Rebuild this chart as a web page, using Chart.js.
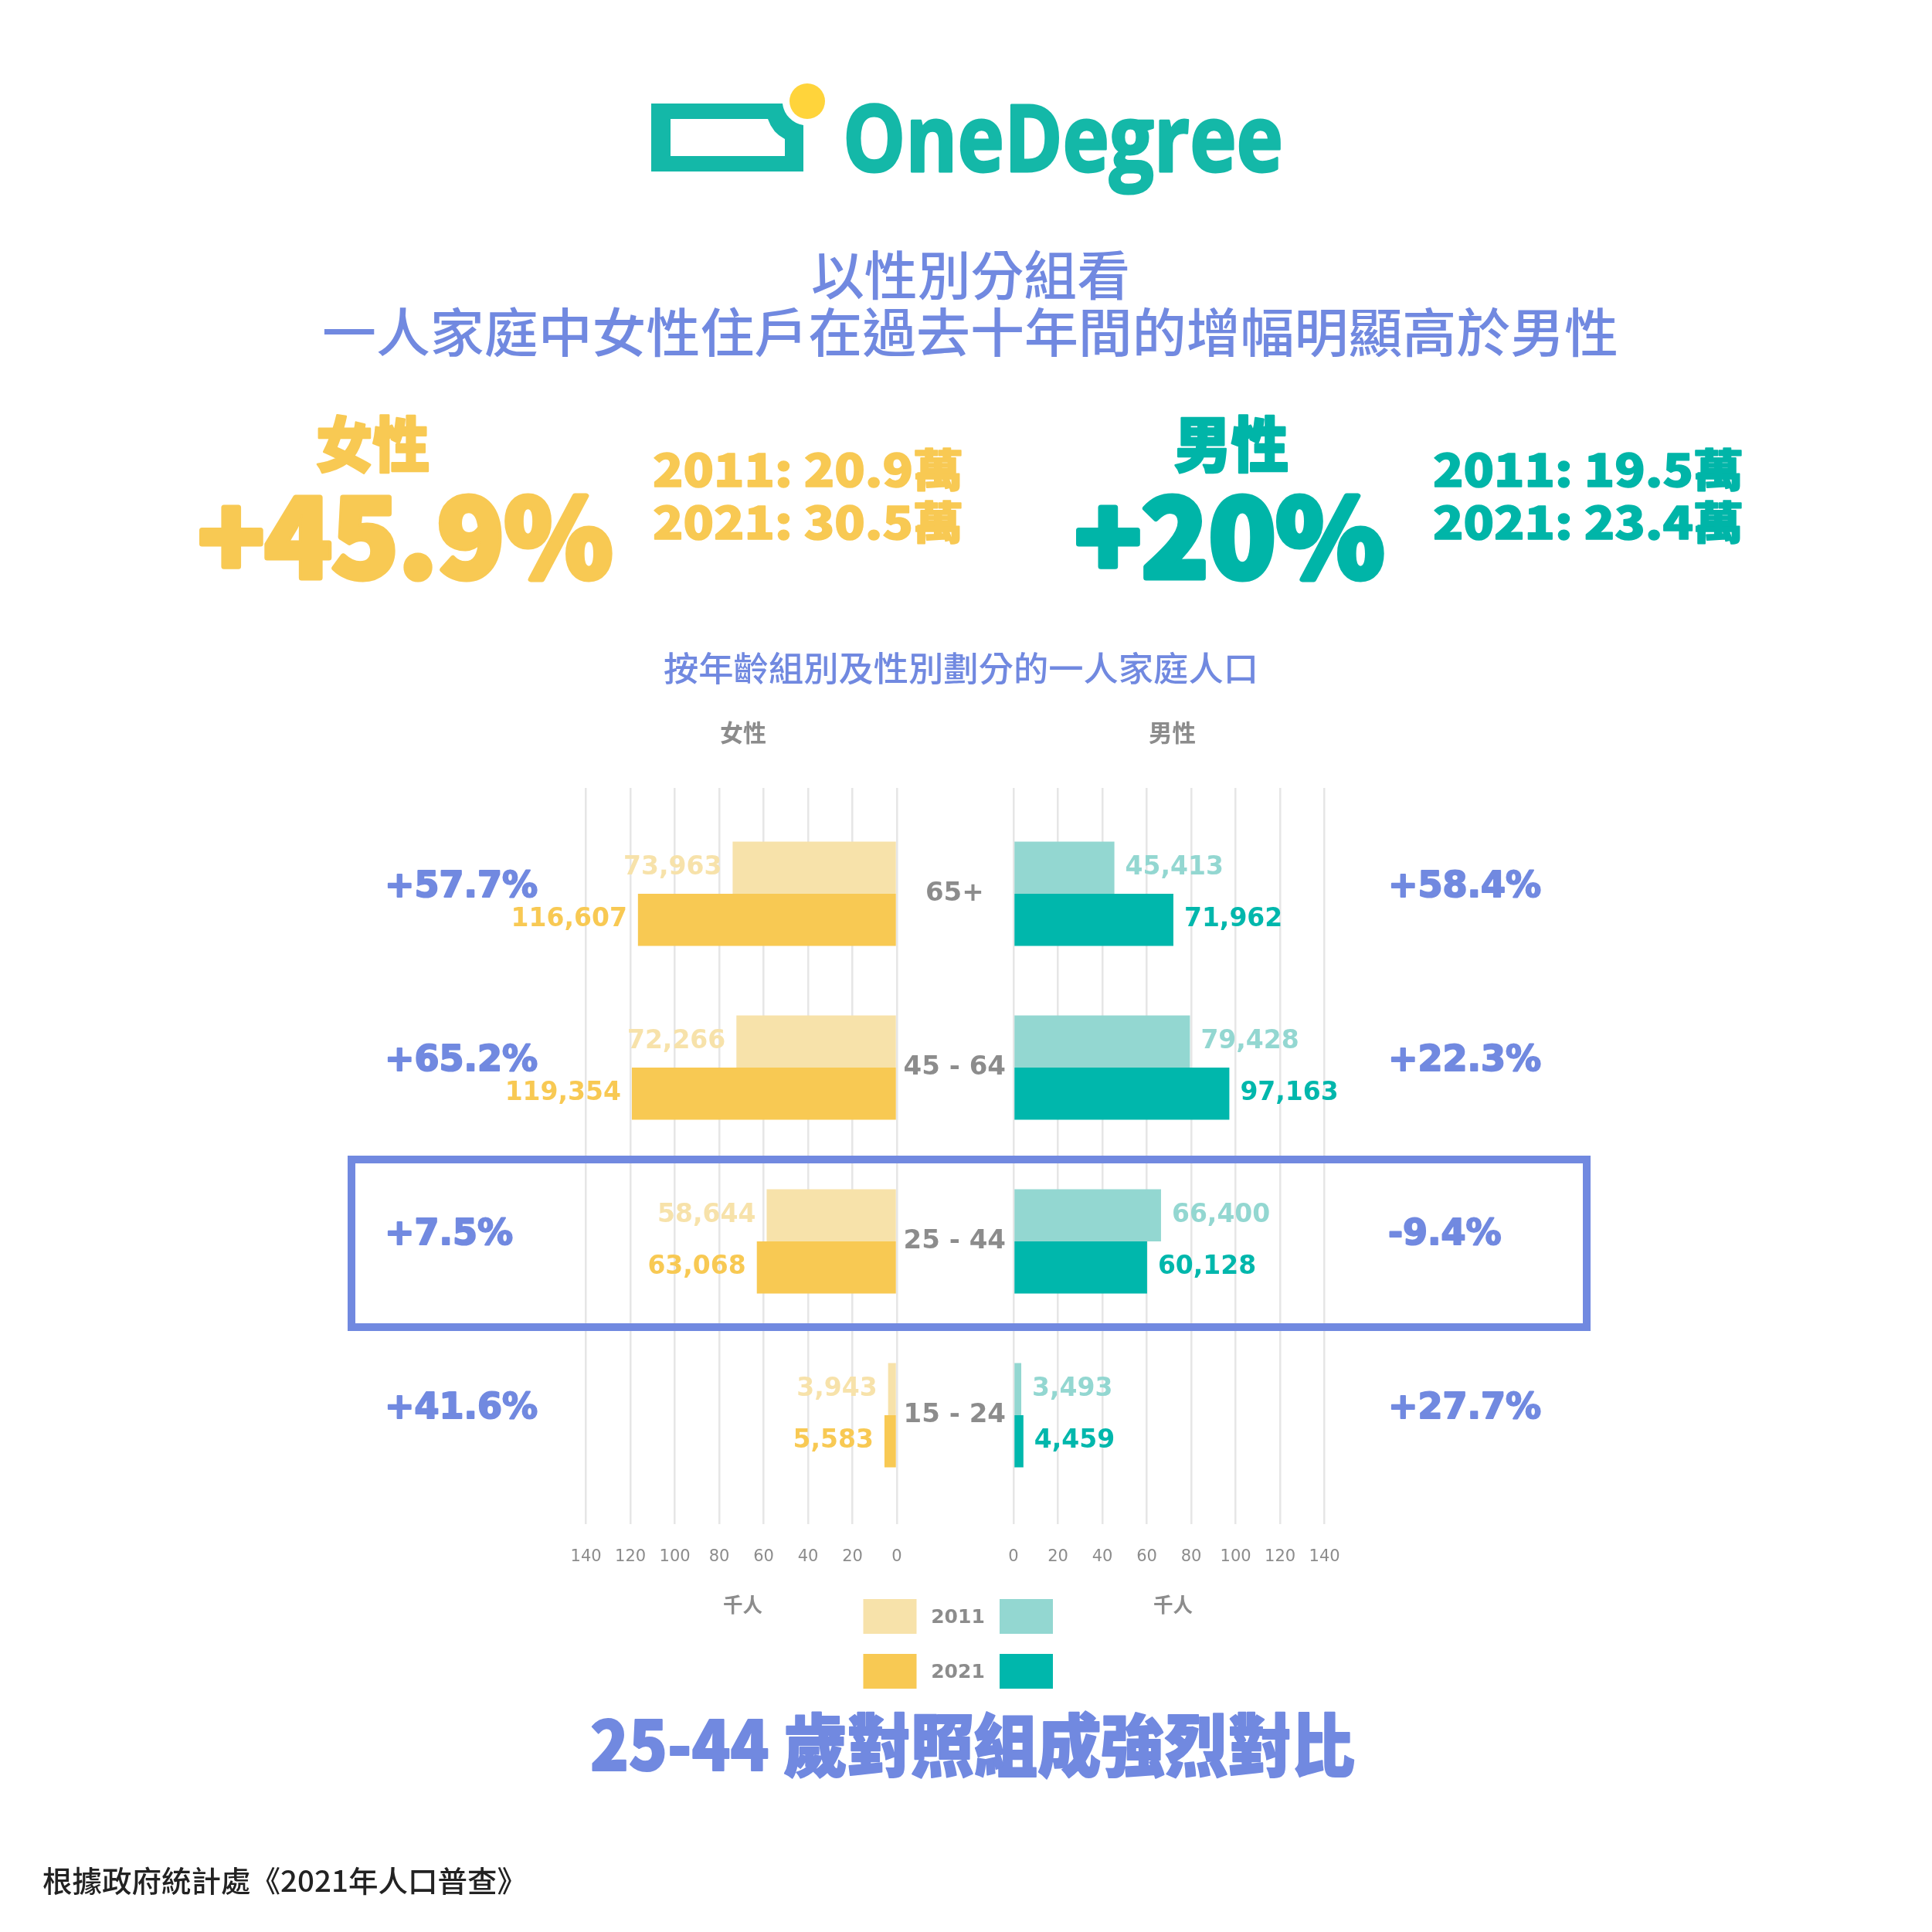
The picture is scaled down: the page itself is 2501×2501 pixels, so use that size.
<!DOCTYPE html>
<html lang="zh-Hant">
<head>
<meta charset="UTF-8">
<title>一人家庭人口</title>
<script src="https://cdn.jsdelivr.net/npm/chart.js@4"></script>
<style>
  html, body { margin: 0; padding: 0; background: #fff; }
  #page { position: relative; width: 2501px; height: 2501px; overflow: hidden; background: #fff; }
  canvas { position: absolute; left: 0; top: 900px; width: 2501px; height: 1160px; }
  #overlay { position: absolute; left: 0; top: 0; pointer-events: none; }
  .cjk { font-family: "Noto Sans CJK TC", "Noto Sans CJK SC", sans-serif; }
  .heavy { paint-order: stroke; stroke-linejoin: round; }
</style>
</head>
<body>
<div id="page">
  <canvas id="femaleChart" width="2501" height="1160"></canvas>
  <canvas id="maleChart" width="2501" height="1160"></canvas>

  <svg id="overlay" width="2501" height="2501" viewBox="0 0 2501 2501" xmlns="http://www.w3.org/2000/svg">
    <!-- logo -->
    <path fill="#14b8a8" fill-rule="evenodd"
          d="M843,134 H1013 A32,32 0 0 0 1040,162 V222 H843 Z M868,154 H994 Q1000,172 1016,180 V202 H868 Z"/>
    <circle cx="1045" cy="131" r="23" fill="#ffd43b"/>
    <text class="heavy" x="1091" y="222" textLength="570" lengthAdjust="spacingAndGlyphs" stroke="#14b8a8" stroke-width="3"
          font-family="Open Sans, Lato, sans-serif" font-weight="700" font-size="120" fill="#14b8a8">OneDegree</text>

    <!-- heading -->
    <g class="cjk" fill="#7189e0" font-weight="500">
      <text x="1050" y="382" font-size="68" textLength="413" lengthAdjust="spacingAndGlyphs">以性別分組看</text>
      <text x="417" y="456" font-size="68" textLength="1678" lengthAdjust="spacingAndGlyphs">一人家庭中女性住戶在過去十年間的增幅明顯高於男性</text>
    </g>

    <!-- summary -->
    <g class="cjk heavy" font-weight="900" fill="#f8c953" stroke="#f8c953">
      <text x="409" y="605" font-size="78" stroke-width="2.5" textLength="147" lengthAdjust="spacingAndGlyphs">女性</text>
      <text x="256" y="748" font-size="140" stroke-width="7" textLength="537" lengthAdjust="spacingAndGlyphs">+45.9%</text>
      <text x="845" y="630" font-size="58" stroke-width="1.5" textLength="402" lengthAdjust="spacingAndGlyphs">2011: 20.9萬</text>
      <text x="845" y="698" font-size="58" stroke-width="1.5" textLength="402" lengthAdjust="spacingAndGlyphs">2021: 30.5萬</text>
    </g>
    <g class="cjk heavy" font-weight="900" fill="#00b5a8" stroke="#00b5a8">
      <text x="1520" y="605" font-size="78" stroke-width="2.5" textLength="148" lengthAdjust="spacingAndGlyphs">男性</text>
      <text x="1391" y="748" font-size="140" stroke-width="7" textLength="401" lengthAdjust="spacingAndGlyphs">+20%</text>
      <text x="1855" y="630" font-size="58" stroke-width="1.5" textLength="402" lengthAdjust="spacingAndGlyphs">2011: 19.5萬</text>
      <text x="1855" y="698" font-size="58" stroke-width="1.5" textLength="402" lengthAdjust="spacingAndGlyphs">2021: 23.4萬</text>
    </g>

    <!-- chart titles -->
    <text class="cjk" x="859" y="882" font-size="44" font-weight="500" fill="#7189e0"
          textLength="770" lengthAdjust="spacingAndGlyphs">按年齡組別及性別劃分的一人家庭人口</text>
    <g class="cjk" font-weight="700" fill="#8c8c8c">
      <text x="932" y="960" font-size="31" textLength="60" lengthAdjust="spacingAndGlyphs">女性</text>
      <text x="1487" y="960" font-size="31" textLength="61" lengthAdjust="spacingAndGlyphs">男性</text>
      <text x="936" y="2087" font-size="26" textLength="51" lengthAdjust="spacingAndGlyphs">千人</text>
      <text x="1493" y="2087" font-size="26" textLength="51" lengthAdjust="spacingAndGlyphs">千人</text>
    </g>

    <!-- 25-44 highlight -->
    <rect x="455" y="1501" width="1599" height="217" fill="none" stroke="#7189e0" stroke-width="10"/>

    <g id="legend"></g>

    <text class="cjk heavy" x="764" y="2292" font-size="88" font-weight="900" fill="#7189e0" stroke="#7189e0" stroke-width="2"
          textLength="990" lengthAdjust="spacingAndGlyphs">25-44 歲對照組成強烈對比</text>
    <text class="cjk" x="55" y="2449" font-size="38" font-weight="500" fill="#222"
          textLength="627" lengthAdjust="spacingAndGlyphs">根據政府統計處《2021年人口普查》</text>
  </svg>
</div>

<script>
const ageGroups = ['65+', '45 - 64', '25 - 44', '15 - 24'];
const years = ['2011', '2021'];
const female2011 = [73963, 72266, 58644, 3943];
const female2021 = [116607, 119354, 63068, 5583];
const male2011 = [45413, 79428, 66400, 3493];
const male2021 = [71962, 97163, 60128, 4459];
const femaleChange = ['+57.7%', '+65.2%', '+7.5%', '+41.6%'];
const maleChange = ['+58.4%', '+22.3%', '-9.4%', '+27.7%'];
const axisTicks = [0, 20, 40, 60, 80, 100, 120, 140]; // 千人

const femaleColors = ['#f7e2aa', '#f8c953'];
const maleColors = ['#93d7d1', '#00b7ac'];
const accent = '#7189e0';
const gray = '#8c8c8c';

// bar value labels + change percentage per age group
const labelPlugin = {
  id: 'barLabels',
  afterDatasetsDraw(chart, args, opts) {
    const ctx = chart.ctx;
    ctx.save();
    ctx.textBaseline = 'middle';
    ctx.font = 'bold 33px "DejaVu Sans"';
    chart.data.datasets.forEach((ds, di) => {
      chart.getDatasetMeta(di).data.forEach((bar, i) => {
        const v = ds.data[i].x;
        ctx.fillStyle = ds.backgroundColor;
        if (opts.side === 'left') {
          ctx.textAlign = 'right';
          ctx.fillText(v.toLocaleString('en-US'), bar.x - 14, bar.y);
        } else {
          ctx.textAlign = 'left';
          ctx.fillText(v.toLocaleString('en-US'), bar.x + 14, bar.y);
        }
      });
    });
    ctx.font = 'bold 46px "DejaVu Sans"';
    ctx.fillStyle = accent;
    ctx.strokeStyle = accent;
    ctx.lineWidth = 2;
    ctx.lineJoin = 'round';
    ctx.textAlign = 'left';
    const y = chart.scales.y;
    opts.changes.forEach((t, i) => {
      const py = y.getPixelForValue(i) - 8;
      ctx.strokeText(t, opts.changeX, py);
      ctx.fillText(t, opts.changeX, py);
    });
    ctx.restore();
  }
};

function makeDatasets(a, b, colors) {
  return [a, b].map((vals, k) => ({
    label: years[k],
    data: vals.map((v, i) => ({ x: v, y: i })),
    backgroundColor: colors[k],
    borderWidth: 0,
    categoryPercentage: 0.6,
    barPercentage: 1.0
  }));
}

function buildOptions(side) {
  return {
    indexAxis: 'y',
    responsive: false,
    animation: false,
    devicePixelRatio: 1,
    layout: {
      padding: side === 'left'
        ? { left: 758.6, right: 1340, top: 120, bottom: 27 }
        : { left: 1158, right: 786.4, top: 120, bottom: 27 }
    },
    plugins: {
      legend: { display: false },
      tooltip: { enabled: false },
      barLabels: side === 'left'
        ? { side: 'left', changes: femaleChange, changeX: 498 }
        : { side: 'right', changes: maleChange, changeX: 1797 }
    },
    scales: {
      x: {
        type: 'linear',
        min: 0,
        max: 140000,
        reverse: side === 'left',
        afterBuildTicks: (s) => { s.ticks = axisTicks.map(v => ({ value: v * 1000 })); },
        afterFit: (s) => { s.height = 60; },
        grid: { color: '#e6e6e6', lineWidth: 2.5, drawTicks: false },
        border: { display: false },
        ticks: {
          autoSkip: false,
          maxRotation: 0,
          padding: 30,
          color: gray,
          font: { family: 'DejaVu Sans', size: 21 },
          callback: (v) => v / 1000
        }
      },
      y: {
        type: 'linear',
        reverse: true,
        offset: false,
        min: -0.609,
        max: 3.627,
        display: side === 'right',
        position: 'left',
        afterBuildTicks: (s) => { s.ticks = ageGroups.map((_, i) => ({ value: i })); },
        afterFit: (s) => { s.width = side === 'right' ? 154 : 0; },
        grid: { display: false, drawTicks: false, offset: false },
        border: { display: false },
        ticks: {
          crossAlign: 'center',
          padding: 10,
          color: gray,
          font: { family: 'DejaVu Sans', size: 34, weight: 'bold' },
          callback: (v) => ageGroups[v]
        }
      }
    }
  };
}

new Chart(document.getElementById('femaleChart'), {
  type: 'bar',
  data: { datasets: makeDatasets(female2011, female2021, femaleColors) },
  options: buildOptions('left'),
  plugins: [labelPlugin]
});

new Chart(document.getElementById('maleChart'), {
  type: 'bar',
  data: { datasets: makeDatasets(male2011, male2021, maleColors) },
  options: buildOptions('right'),
  plugins: [labelPlugin]
});

// legend: one row per year, female colour | year | male colour
const legend = document.getElementById('legend');
const NS = 'http://www.w3.org/2000/svg';
years.forEach((yr, k) => {
  const top = 2070 + k * 71;
  [[1117.5, femaleColors[k]], [1294, maleColors[k]]].forEach(([x, c]) => {
    const r = document.createElementNS(NS, 'rect');
    r.setAttribute('x', x); r.setAttribute('y', top);
    r.setAttribute('width', 69); r.setAttribute('height', 45);
    r.setAttribute('fill', c);
    legend.appendChild(r);
  });
  const t = document.createElementNS(NS, 'text');
  t.setAttribute('x', 1240); t.setAttribute('y', top + 31);
  t.setAttribute('text-anchor', 'middle');
  t.setAttribute('font-family', 'DejaVu Sans');
  t.setAttribute('font-weight', 'bold');
  t.setAttribute('font-size', 25);
  t.setAttribute('fill', gray);
  t.textContent = yr;
  legend.appendChild(t);
});
</script>
</body>
</html>
